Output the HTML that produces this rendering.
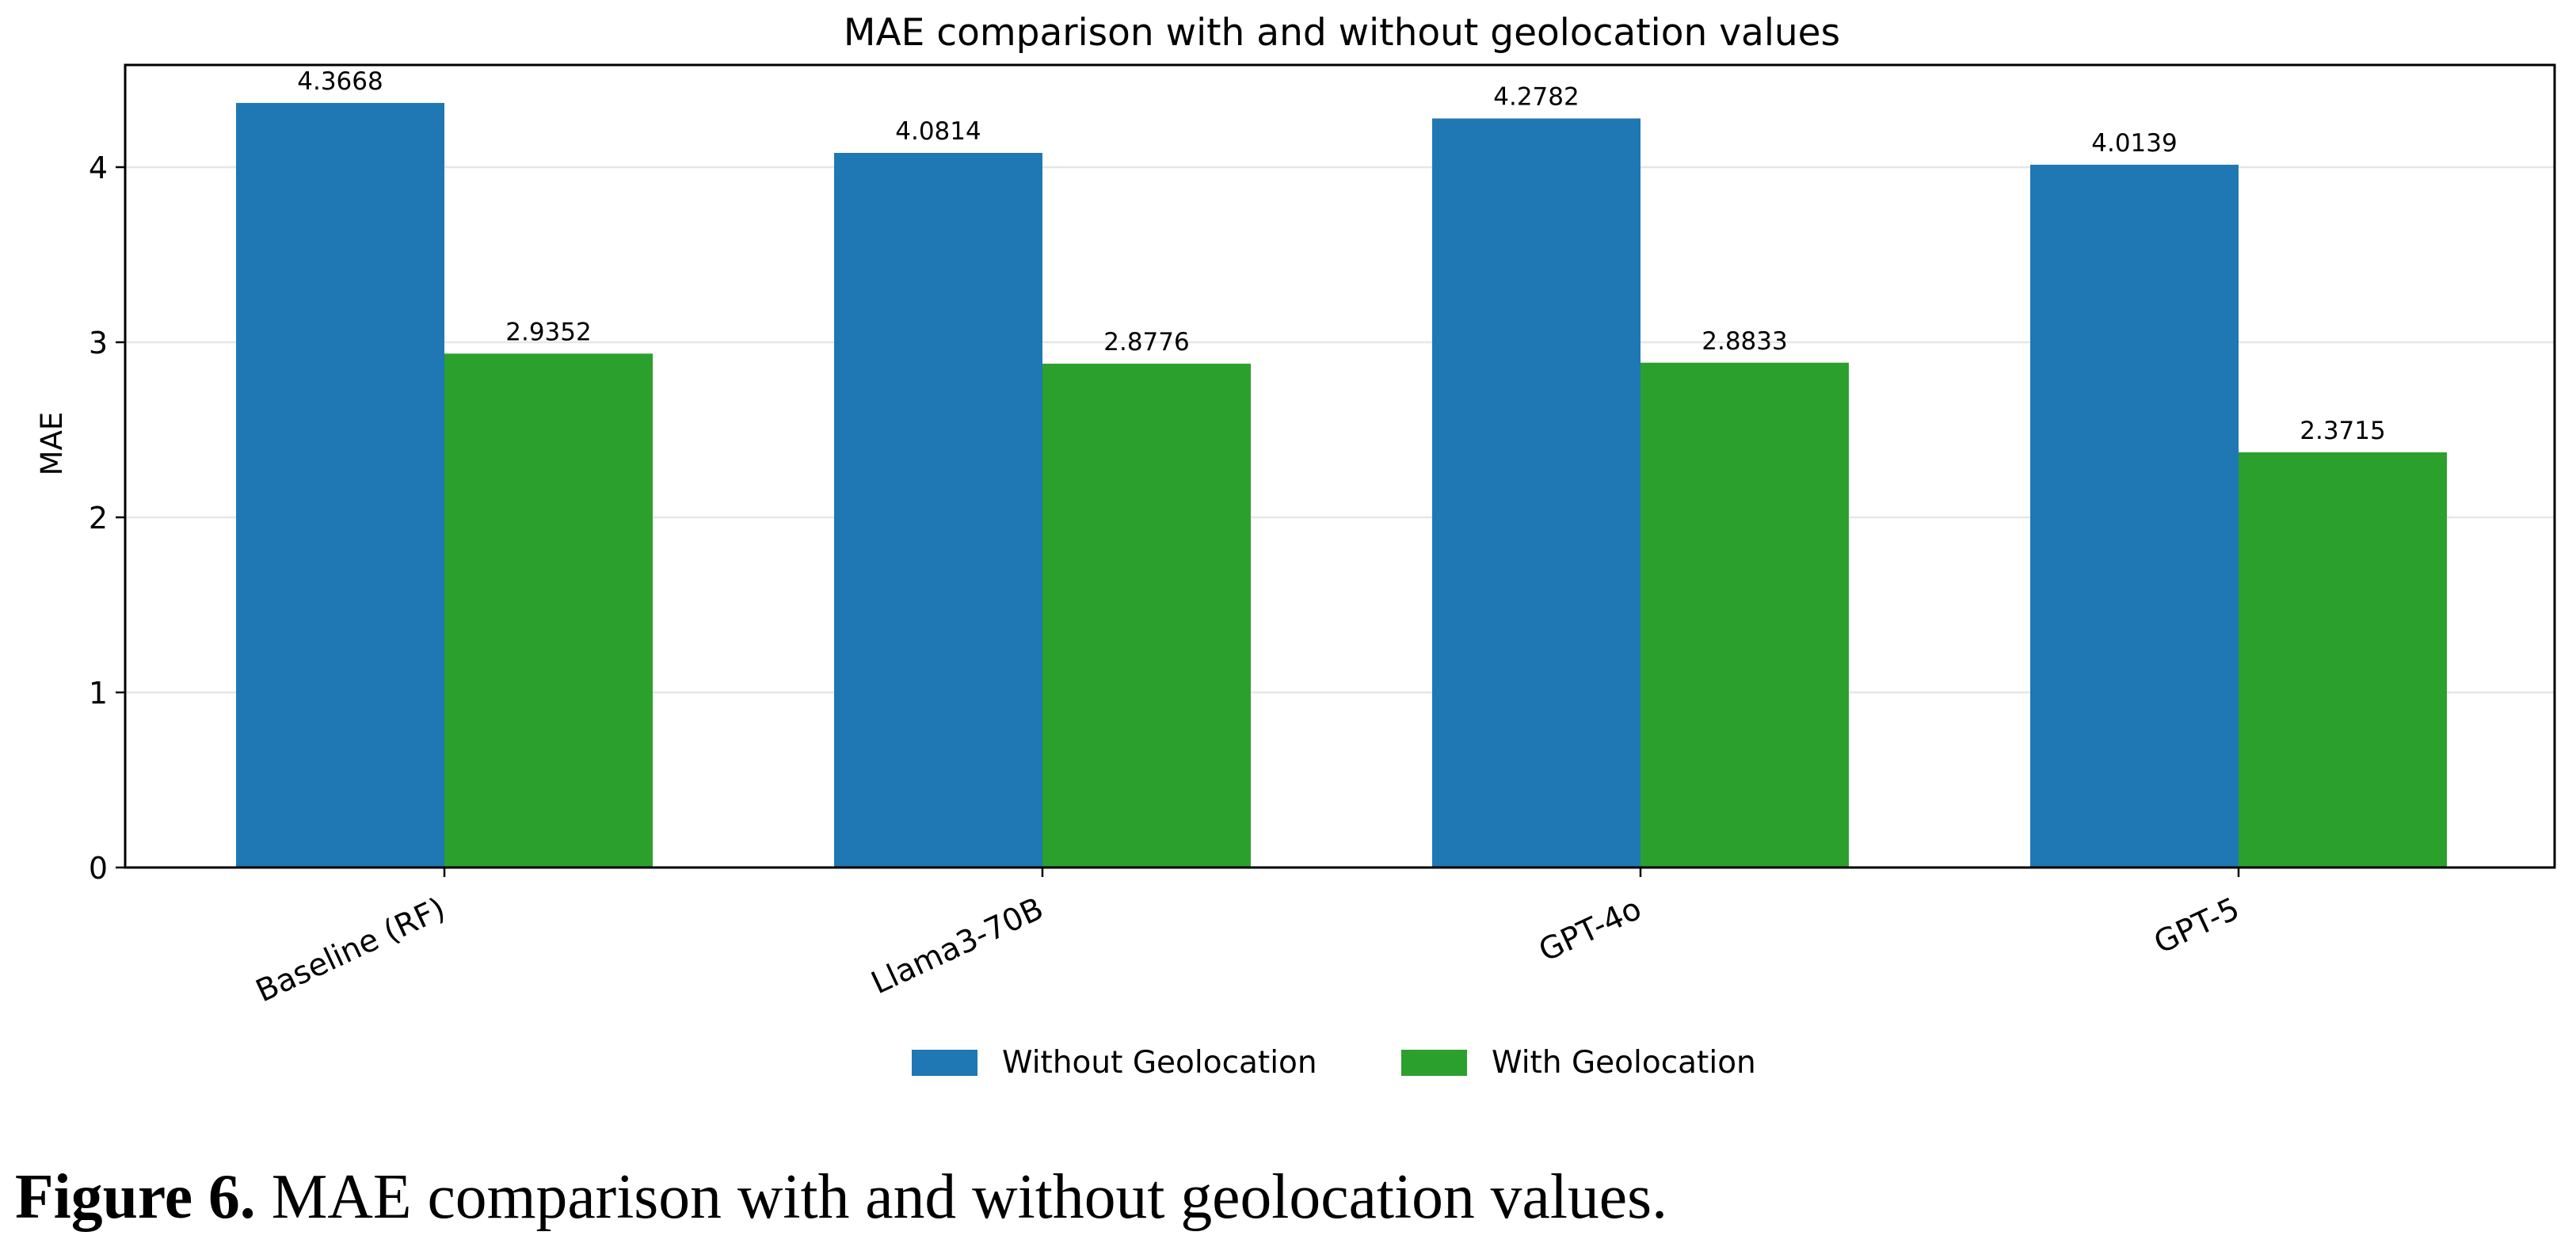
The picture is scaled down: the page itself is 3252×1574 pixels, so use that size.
<!DOCTYPE html>
<html><head><meta charset="utf-8"><style>
html,body{margin:0;padding:0;background:#fff;}
svg{display:block;}
text{font-family:"DejaVu Sans","Liberation Sans",sans-serif;}
</style></head><body>
<svg id="chart" width="3252" height="1574" viewBox="0 0 3252 1574" xmlns="http://www.w3.org/2000/svg">
<rect width="3252" height="1574" fill="#fff"/>
<text x="1694" y="57" font-size="47" text-anchor="middle">MAE comparison with and without geolocation values</text>
<g id="grid"></g>
<g id="bars"></g>
<g id="axes"></g>
<text transform="translate(78,560) rotate(-90)" font-size="37" text-anchor="middle">MAE</text>
<g>
<rect x="1151" y="1325" width="83" height="33" fill="#1f77b4"/>
<text x="1265" y="1354" font-size="39">Without Geolocation</text>
<rect x="1769" y="1325" width="83" height="33" fill="#2ca02c"/>
<text x="1883" y="1354" font-size="39">With Geolocation</text>
</g>
<text x="19" y="1537" font-size="80" textLength="2086" lengthAdjust="spacingAndGlyphs" style="font-family:'Liberation Serif',serif"><tspan font-weight="bold">Figure 6.</tspan> MAE comparison with and without geolocation values.</text>
</svg>
<script>
const categories = ["Baseline (RF)", "Llama3-70B", "GPT-4o", "GPT-5"];
const withoutGeo = [4.3668, 4.0814, 4.2782, 4.0139];
const withGeo = [2.9352, 2.8776, 2.8833, 2.3715];
const yTicks = [0, 1, 2, 3, 4];

const NS = "http://www.w3.org/2000/svg";
const L = 158, R = 3225, T = 82, B = 1095;
const y0 = 1095, unit = 221;
const c0 = 561, step = 755, bw = 263;
function yScale(v){ return y0 - v * unit; }
function xScale(i){ return c0 + i * step; }
function mk(tag, attrs, parent){ const e = document.createElementNS(NS, tag); for (const k in attrs) e.setAttribute(k, attrs[k]); parent.appendChild(e); return e; }

const grid = document.getElementById('grid');
const bars = document.getElementById('bars');
const axes = document.getElementById('axes');

yTicks.forEach(t => {
  const y = yScale(t);
  const g = mk('line', {x1:L, x2:R, y1:y, y2:y, stroke:'#e6e6e6', 'stroke-width':2.5}, grid);
  
  
  const tk = mk('line', {x1:L-12, x2:L, y1:y, y2:y, stroke:'#000', 'stroke-width':2.5}, axes);
  
  
  const lb = mk('text', {x:L-22, y:y+14, 'font-size':38, 'text-anchor':'end'}, axes);
  lb.textContent = t;
  
  
});

categories.forEach((c, i) => {
  const cx = xScale(i);
  [[withoutGeo[i], cx - bw, '#1f77b4', 'without'], [withGeo[i], cx, '#2ca02c', 'with']].forEach(([v, x, col, s]) => {
    const r = mk('rect', {x:x, y:yScale(v), width:bw, height:y0 - yScale(v), fill:col}, bars);
    
    
    const t = mk('text', {x:x + bw/2, y:yScale(v) - 17, 'font-size':31, 'text-anchor':'middle'}, bars);
    t.textContent = v.toFixed(4);
    
    
  });
  const tk = mk('line', {x1:cx, x2:cx, y1:B, y2:B+12, stroke:'#000', 'stroke-width':2.5}, axes);
  
  
  const lb = mk('text', {transform:'translate(' + (cx - 8) + ',' + (B + 36) + ') rotate(-25)', 'font-size':39, 'text-anchor':'end', 'dominant-baseline':'hanging'}, axes);
  lb.textContent = c;
  
  
});

const frame = mk('rect', {x:L, y:T, width:R-L, height:B-T, fill:'none', stroke:'#000', 'stroke-width':3}, axes);


</script>
</body></html>
